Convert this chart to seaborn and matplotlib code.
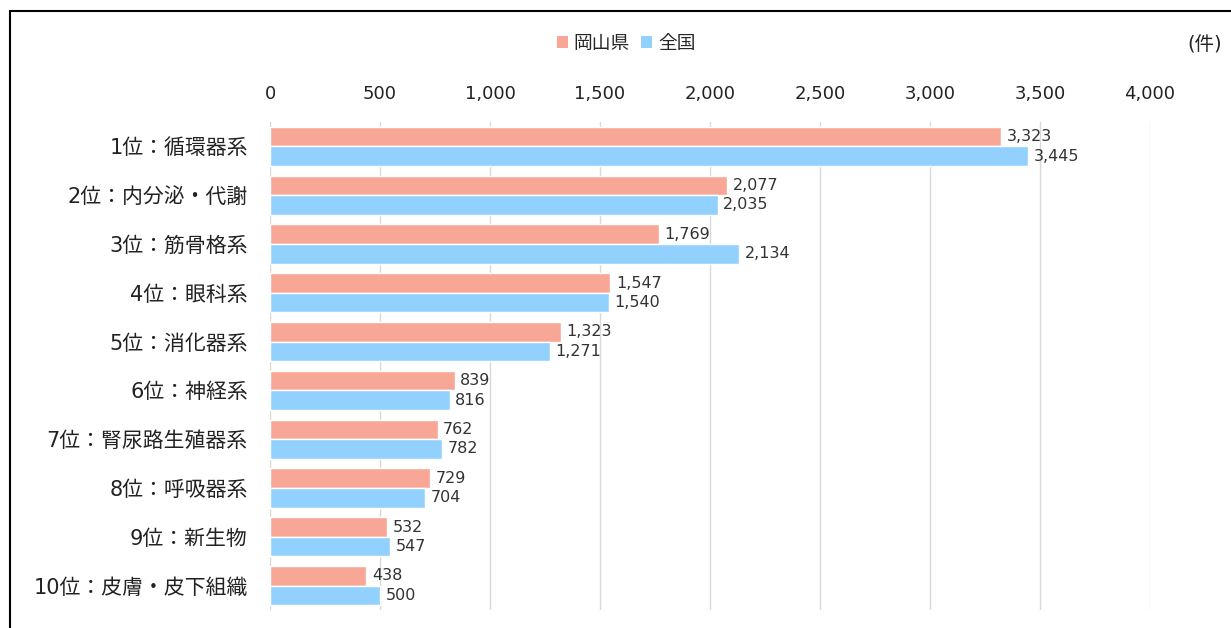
import matplotlib
matplotlib.use("Agg")
import matplotlib.pyplot as plt
import seaborn as sns
import pandas as pd
from matplotlib.patches import Patch
from matplotlib.lines import Line2D

categories = ["1位：循環器系", "2位：内分泌・代謝", "3位：筋骨格系", "4位：眼科系", "5位：消化器系",
              "6位：神経系", "7位：腎尿路生殖器系", "8位：呼吸器系", "9位：新生物", "10位：皮膚・皮下組織"]
okayama = [3323, 2077, 1769, 1547, 1323, 839, 762, 729, 532, 438]
national = [3445, 2035, 2134, 1540, 1271, 816, 782, 704, 547, 500]
series = ["岡山県", "全国"]
ticks = [0, 500, 1000, 1500, 2000, 2500, 3000, 3500, 4000]
colors = ["#F8A796", "#92D1FE"]

df = pd.DataFrame({
    "cat": categories * 2,
    "val": okayama + national,
    "series": [series[0]] * len(categories) + [series[1]] * len(categories),
})

sns.set_theme(style="white")
plt.rcParams['font.family'] = ['DejaVu Sans', 'Noto Sans CJK JP']

fig = plt.figure(figsize=(12.31, 6.28), dpi=100)
ax = fig.add_axes([270/1231, 1 - 610/628, 880/1231, 488/628])

sns.barplot(data=df, y="cat", x="val", hue="series", order=categories, hue_order=series,
            palette=colors, orient="h", width=0.8, ax=ax, legend=False, saturation=1)

for c in ax.containers:
    ax.bar_label(c, labels=[f"{v:,.0f}" for v in c.datavalues], padding=4,
                 fontsize=11.5, color="#333333")

ax.set_xlim(0, 4000)
ax.set_xticks(ticks)
ax.set_xticklabels([f"{t:,}" for t in ticks])
ax.xaxis.tick_top()
ax.tick_params(axis="x", labelsize=13, length=0, pad=14, colors="#222222")
ax.tick_params(axis="y", labelsize=15, length=0, pad=16, colors="#222222")
ax.set_xlabel("")
ax.set_ylabel("")
ax.grid(axis="x", color="#D9D9D9", linewidth=1)
ax.set_axisbelow(True)
for s in ax.spines.values():
    s.set_visible(False)

handles = [Patch(facecolor=colors[i], edgecolor="none", label=series[i]) for i in range(2)]
fig.legend(handles=handles, loc="center", bbox_to_anchor=(626/1231, 1 - 43/628), ncol=2,
           frameon=False, fontsize=13.5, handlelength=0.6, handleheight=0.6,
           handletextpad=0.3, columnspacing=0.6)
fig.text(1205/1231, 1 - 45/628, "(件)", ha="center", va="center", fontsize=14, color="#222222")

fig.add_artist(Line2D([10/1231, 10/1231], [0, 1 - 11/628], color="black", linewidth=1.5,
                      transform=fig.transFigure))
fig.add_artist(Line2D([10/1231, 1], [1 - 11/628, 1 - 11/628], color="black", linewidth=1.5,
                      transform=fig.transFigure))

fig.savefig("out.png", dpi=100)
